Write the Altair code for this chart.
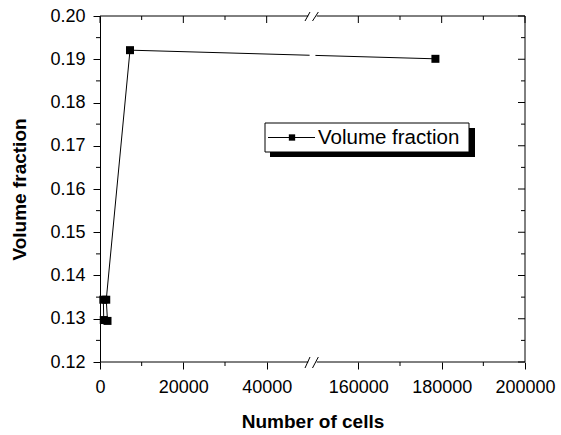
import altair as alt
import pandas as pd

# ---- data ----
cells = [800, 900, 1800, 1500, 7200, 178500]
vol_frac = [0.1344, 0.1297, 0.1295, 0.1344, 0.1921, 0.1901]
series_name = "Volume fraction"

x_major_cells = [0, 20000, 40000, 160000, 180000, 200000]
x_minor_cells = [10000, 30000, 170000, 190000]
y_major = [0.12, 0.13, 0.14, 0.15, 0.16, 0.17, 0.18, 0.19, 0.20]
y_minor = [0.125, 0.135, 0.145, 0.155, 0.165, 0.175, 0.185, 0.195]

# broken x axis: 0..50000 | 150000..200000
BREAK_LO = 50000
BREAK_HI = 150000
GAP = 2000
SHIFT = BREAK_HI - BREAK_LO - GAP  # 98000


def to_d(x):
    return x if x <= BREAK_LO else x - SHIFT


D_MAX = to_d(200000)
FONT = "Liberation Sans"
W, H = 425, 346

df = pd.DataFrame({"d": [to_d(c) for c in cells], "v": vol_frac,
                   "o": list(range(len(cells)))})
xmaj = pd.DataFrame({"d": [to_d(c) for c in x_major_cells]})
xmin = pd.DataFrame({"d": [to_d(c) for c in x_minor_cells]})
ymaj = pd.DataFrame({"v": y_major})
ymin = pd.DataFrame({"v": y_minor})
segs = pd.DataFrame({"d": [0, BREAK_LO + GAP], "e": [BREAK_LO, D_MAX]})
slashes = pd.DataFrame({"d": [BREAK_LO - 800, BREAK_LO + 1000],
                        "b": [BREAK_LO + 400, BREAK_LO + 2400]})

xs = alt.Scale(domain=[0, D_MAX], nice=False, zero=False)
ys = alt.Scale(domain=[0.12, 0.20], nice=False, zero=False)

label_expr = (f"datum.value > {BREAK_LO + GAP / 2} ? format(datum.value + {SHIFT}, 'd')"
              " : format(datum.value, 'd')")

x_axis = alt.Axis(values=[to_d(c) for c in x_major_cells], labelExpr=label_expr,
                  title="Number of cells", domain=False, tickSize=7,
                  labelPadding=9, titlePadding=16, labelFontSize=18,
                  titleFontSize=19, titleFontWeight="bold", labelFlush=False,
                  labelOverlap=False)
y_axis = alt.Axis(values=y_major, format=".2f", title="Volume fraction",
                  tickSize=7, labelPadding=8, titlePadding=20, labelFontSize=18,
                  titleFontSize=19, titleFontWeight="bold", domainWidth=1)

X = lambda f: alt.X(f, scale=xs, axis=x_axis)
Y = lambda f: alt.Y(f, scale=ys, axis=y_axis)

base = alt.Chart(df)
line = base.mark_line(color="black", strokeWidth=1).encode(
    x=X("d:Q"), y=Y("v:Q"), order="o:Q")
pts = base.mark_square(size=64, color="black", opacity=1).encode(
    x=X("d:Q"), y=Y("v:Q"))

# white gap in the data line at the axis break
gap = alt.Chart(pd.DataFrame({"k": [0]})).mark_rect(color="white").encode(
    x=alt.datum(BREAK_LO + 300), x2=alt.datum(BREAK_LO + 1700),
    y=alt.datum(0.186), y2=alt.datum(0.195),
)

seg_chart = alt.Chart(segs)
bottom_line = seg_chart.mark_rule(color="black", strokeWidth=1).encode(
    x=X("d:Q"), x2="e:Q", y=alt.value(H))
top_line = seg_chart.mark_rule(color="black", strokeWidth=1).encode(
    x=X("d:Q"), x2="e:Q", y=alt.value(0))
right_line = alt.Chart(pd.DataFrame({"k": [0]})).mark_rule(color="black", strokeWidth=1).encode(
    x=alt.value(W), y=alt.value(0), y2=alt.value(H))

bottom_minor = alt.Chart(xmin).mark_rule(color="black").encode(
    x=X("d:Q"), y=alt.value(H), y2=alt.value(H + 4))
top_major = alt.Chart(xmaj).mark_rule(color="black").encode(
    x=X("d:Q"), y=alt.value(0), y2=alt.value(7))
top_minor = alt.Chart(xmin).mark_rule(color="black").encode(
    x=X("d:Q"), y=alt.value(0), y2=alt.value(4))
left_minor = alt.Chart(ymin).mark_rule(color="black").encode(
    y=Y("v:Q"), x=alt.value(-4), x2=alt.value(0))
right_major = alt.Chart(ymaj).mark_rule(color="black").encode(
    y=Y("v:Q"), x=alt.value(W - 7), x2=alt.value(W))
right_minor = alt.Chart(ymin).mark_rule(color="black").encode(
    y=Y("v:Q"), x=alt.value(W - 4), x2=alt.value(W))

sl = alt.Chart(slashes)
top_slash = sl.mark_rule(color="black", strokeWidth=1).encode(
    x=X("d:Q"), x2="b:Q", y=alt.value(5), y2=alt.value(-4))
bot_slash = sl.mark_rule(color="black", strokeWidth=1).encode(
    x=X("d:Q"), x2="b:Q", y=alt.value(H + 6), y2=alt.value(H - 5))

# legend
one = alt.Chart(pd.DataFrame({"label": [series_name]}))
leg_shadow = one.mark_rect(color="black").encode(
    x=alt.value(170), x2=alt.value(375), y=alt.value(112), y2=alt.value(141))
leg_box = one.mark_rect(fill="white", stroke="black", strokeWidth=1).encode(
    x=alt.value(165), x2=alt.value(369), y=alt.value(107), y2=alt.value(136))
leg_line = one.mark_rule(color="black", strokeWidth=1).encode(
    x=alt.value(168), x2=alt.value(215), y=alt.value(121.5))
leg_pt = one.mark_square(size=40, color="black", opacity=1).encode(
    x=alt.value(192), y=alt.value(121.5))
leg_text = one.mark_text(align="left", baseline="middle", fontSize=20.5,
                         font=FONT, color="black").encode(
    x=alt.value(218), y=alt.value(122), text="label:N")

chart = alt.layer(
    line, bottom_line, top_line, right_line, bottom_minor, top_major, top_minor,
    left_minor, right_major, right_minor, gap, pts, top_slash, bot_slash,
    leg_shadow, leg_box, leg_line, leg_pt, leg_text,
).properties(
    width=W, height=H,
    autosize=alt.AutoSizeParams(type="none"),
    padding={"left": 100, "top": 16, "right": 36, "bottom": 73},
    background="white",
).configure_view(stroke=None).configure_axis(
    labelFont=FONT, titleFont=FONT, labelColor="black", titleColor="black",
    domainColor="black", tickColor="black", grid=False,
)

chart.save("out.html", embed_options={"renderer": "svg", "actions": False})
